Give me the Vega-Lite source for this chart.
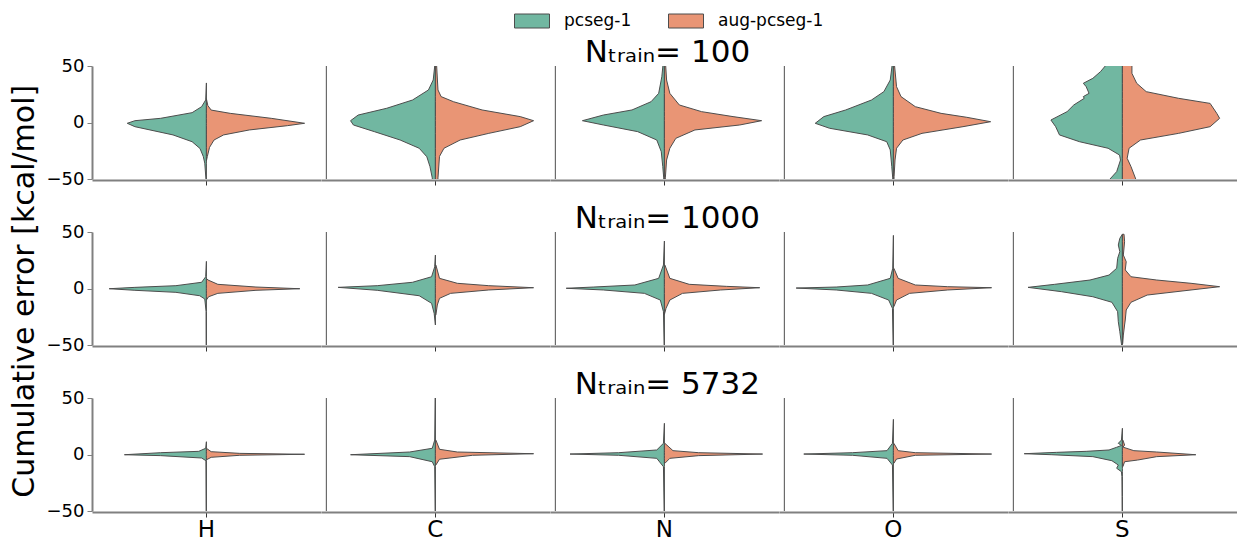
{
"$schema": "https://vega.github.io/schema/vega-lite/v6.json",
"background": "white",
"padding": {"left": 10, "top": 3, "right": 0, "bottom": 0},
"title": {"text": "Cumulative error [kcal/mol]", "orient": "left", "anchor": "middle", "fontSize": 30, "fontWeight": "normal", "color": "black", "offset": 6, "dx": -19},
"config": {
 "font": "DejaVu Sans",
 "view": {"stroke": null},
 "title": {"fontSize": 31, "fontWeight": "normal", "font": "DejaVu Sans", "color": "black", "anchor": "middle", "offset": -12, "dx": 26}
},
"datasets": {"v": [
{"n":"100","el":"H","s":"pcseg-1","e":35,"w":0},{"n":"100","el":"H","s":"pcseg-1","e":20,"w":-0.7},{"n":"100","el":"H","s":"pcseg-1","e":14,"w":-5},{"n":"100","el":"H","s":"pcseg-1","e":8.7,"w":-15},{"n":"100","el":"H","s":"pcseg-1","e":3.7,"w":-48},{"n":"100","el":"H","s":"pcseg-1","e":1.6,"w":-75},{"n":"100","el":"H","s":"pcseg-1","e":-0.7,"w":-83},{"n":"100","el":"H","s":"pcseg-1","e":-3.7,"w":-75},{"n":"100","el":"H","s":"pcseg-1","e":-11,"w":-35},{"n":"100","el":"H","s":"pcseg-1","e":-17,"w":-15},{"n":"100","el":"H","s":"pcseg-1","e":-23,"w":-6.7},{"n":"100","el":"H","s":"pcseg-1","e":-30,"w":-3.3},{"n":"100","el":"H","s":"pcseg-1","e":-36,"w":-1.7},{"n":"100","el":"H","s":"pcseg-1","e":-52,"w":-0.3},
{"n":"100","el":"H","s":"aug-pcseg-1","e":21,"w":0},{"n":"100","el":"H","s":"aug-pcseg-1","e":15,"w":1.5},{"n":"100","el":"H","s":"aug-pcseg-1","e":11,"w":5},{"n":"100","el":"H","s":"aug-pcseg-1","e":8.1,"w":25},{"n":"100","el":"H","s":"aug-pcseg-1","e":3.7,"w":68},{"n":"100","el":"H","s":"aug-pcseg-1","e":-0.7,"w":103},{"n":"100","el":"H","s":"aug-pcseg-1","e":-2.8,"w":85},{"n":"100","el":"H","s":"aug-pcseg-1","e":-6.6,"w":45},{"n":"100","el":"H","s":"aug-pcseg-1","e":-11,"w":18},{"n":"100","el":"H","s":"aug-pcseg-1","e":-15.5,"w":8},{"n":"100","el":"H","s":"aug-pcseg-1","e":-22,"w":3.3},{"n":"100","el":"H","s":"aug-pcseg-1","e":-30,"w":1},{"n":"100","el":"H","s":"aug-pcseg-1","e":-34,"w":0},
{"n":"100","el":"C","s":"pcseg-1","e":55,"w":-0.7},{"n":"100","el":"C","s":"pcseg-1","e":50,"w":-0.7},{"n":"100","el":"C","s":"pcseg-1","e":37.6,"w":-2.3},{"n":"100","el":"C","s":"pcseg-1","e":28.8,"w":-7.3},{"n":"100","el":"C","s":"pcseg-1","e":19.9,"w":-24},{"n":"100","el":"C","s":"pcseg-1","e":12.6,"w":-51},{"n":"100","el":"C","s":"pcseg-1","e":6.6,"w":-81},{"n":"100","el":"C","s":"pcseg-1","e":1.6,"w":-89},{"n":"100","el":"C","s":"pcseg-1","e":-2.2,"w":-86},{"n":"100","el":"C","s":"pcseg-1","e":-8.1,"w":-64},{"n":"100","el":"C","s":"pcseg-1","e":-15.5,"w":-37},{"n":"100","el":"C","s":"pcseg-1","e":-22.8,"w":-17},{"n":"100","el":"C","s":"pcseg-1","e":-30.3,"w":-9},{"n":"100","el":"C","s":"pcseg-1","e":-39,"w":-5.7},{"n":"100","el":"C","s":"pcseg-1","e":-49,"w":-3.3},{"n":"100","el":"C","s":"pcseg-1","e":-55,"w":-3},
{"n":"100","el":"C","s":"aug-pcseg-1","e":55,"w":1},{"n":"100","el":"C","s":"aug-pcseg-1","e":28.8,"w":2.7},{"n":"100","el":"C","s":"aug-pcseg-1","e":22.9,"w":6},{"n":"100","el":"C","s":"aug-pcseg-1","e":18.4,"w":19},{"n":"100","el":"C","s":"aug-pcseg-1","e":11.1,"w":49},{"n":"100","el":"C","s":"aug-pcseg-1","e":5.2,"w":89},{"n":"100","el":"C","s":"aug-pcseg-1","e":1.6,"w":103},{"n":"100","el":"C","s":"aug-pcseg-1","e":-3.7,"w":89},{"n":"100","el":"C","s":"aug-pcseg-1","e":-9.6,"w":56},{"n":"100","el":"C","s":"aug-pcseg-1","e":-15.5,"w":26},{"n":"100","el":"C","s":"aug-pcseg-1","e":-22.8,"w":9},{"n":"100","el":"C","s":"aug-pcseg-1","e":-30,"w":4.3},{"n":"100","el":"C","s":"aug-pcseg-1","e":-49,"w":2.7},{"n":"100","el":"C","s":"aug-pcseg-1","e":-55,"w":2.5},
{"n":"100","el":"N","s":"pcseg-1","e":55,"w":-1},{"n":"100","el":"N","s":"pcseg-1","e":40.5,"w":-2.7},{"n":"100","el":"N","s":"pcseg-1","e":25.8,"w":-6},{"n":"100","el":"N","s":"pcseg-1","e":18.4,"w":-14},{"n":"100","el":"N","s":"pcseg-1","e":11.1,"w":-34},{"n":"100","el":"N","s":"pcseg-1","e":6.6,"w":-64},{"n":"100","el":"N","s":"pcseg-1","e":1.6,"w":-86},{"n":"100","el":"N","s":"pcseg-1","e":-2.2,"w":-64},{"n":"100","el":"N","s":"pcseg-1","e":-8.1,"w":-28},{"n":"100","el":"N","s":"pcseg-1","e":-15.5,"w":-8},{"n":"100","el":"N","s":"pcseg-1","e":-25.8,"w":-3.3},{"n":"100","el":"N","s":"pcseg-1","e":-39,"w":-1.7},{"n":"100","el":"N","s":"pcseg-1","e":-49,"w":-0.7},{"n":"100","el":"N","s":"pcseg-1","e":-55,"w":-0.5},
{"n":"100","el":"N","s":"aug-pcseg-1","e":55,"w":1},{"n":"100","el":"N","s":"aug-pcseg-1","e":37.6,"w":2.3},{"n":"100","el":"N","s":"aug-pcseg-1","e":25.8,"w":5.7},{"n":"100","el":"N","s":"aug-pcseg-1","e":15.5,"w":15.7},{"n":"100","el":"N","s":"aug-pcseg-1","e":9.6,"w":39},{"n":"100","el":"N","s":"aug-pcseg-1","e":5.2,"w":72},{"n":"100","el":"N","s":"aug-pcseg-1","e":1.6,"w":102},{"n":"100","el":"N","s":"aug-pcseg-1","e":-2.2,"w":79},{"n":"100","el":"N","s":"aug-pcseg-1","e":-6.6,"w":32},{"n":"100","el":"N","s":"aug-pcseg-1","e":-14,"w":12},{"n":"100","el":"N","s":"aug-pcseg-1","e":-22.8,"w":5.7},{"n":"100","el":"N","s":"aug-pcseg-1","e":-33.2,"w":2.3},{"n":"100","el":"N","s":"aug-pcseg-1","e":-49,"w":1},{"n":"100","el":"N","s":"aug-pcseg-1","e":-55,"w":0.8},
{"n":"100","el":"O","s":"pcseg-1","e":55,"w":-0.7},{"n":"100","el":"O","s":"pcseg-1","e":37.6,"w":-3.3},{"n":"100","el":"O","s":"pcseg-1","e":27.3,"w":-10},{"n":"100","el":"O","s":"pcseg-1","e":19.9,"w":-23},{"n":"100","el":"O","s":"pcseg-1","e":11.1,"w":-50},{"n":"100","el":"O","s":"pcseg-1","e":5.2,"w":-73},{"n":"100","el":"O","s":"pcseg-1","e":-0.7,"w":-82},{"n":"100","el":"O","s":"pcseg-1","e":-5.1,"w":-67},{"n":"100","el":"O","s":"pcseg-1","e":-11,"w":-27},{"n":"100","el":"O","s":"pcseg-1","e":-17,"w":-7},{"n":"100","el":"O","s":"pcseg-1","e":-24.3,"w":-3.3},{"n":"100","el":"O","s":"pcseg-1","e":-39,"w":-1.7},{"n":"100","el":"O","s":"pcseg-1","e":-49,"w":-0.7},{"n":"100","el":"O","s":"pcseg-1","e":-55,"w":-0.5},
{"n":"100","el":"O","s":"aug-pcseg-1","e":55,"w":0.7},{"n":"100","el":"O","s":"aug-pcseg-1","e":31.7,"w":3.3},{"n":"100","el":"O","s":"aug-pcseg-1","e":22.9,"w":8},{"n":"100","el":"O","s":"aug-pcseg-1","e":14,"w":23},{"n":"100","el":"O","s":"aug-pcseg-1","e":8.1,"w":50},{"n":"100","el":"O","s":"aug-pcseg-1","e":4.6,"w":77},{"n":"100","el":"O","s":"aug-pcseg-1","e":0.7,"w":102},{"n":"100","el":"O","s":"aug-pcseg-1","e":-3.7,"w":73},{"n":"100","el":"O","s":"aug-pcseg-1","e":-9.6,"w":30},{"n":"100","el":"O","s":"aug-pcseg-1","e":-15.5,"w":10},{"n":"100","el":"O","s":"aug-pcseg-1","e":-22.8,"w":3.3},{"n":"100","el":"O","s":"aug-pcseg-1","e":-33.2,"w":1.7},{"n":"100","el":"O","s":"aug-pcseg-1","e":-48,"w":0.7},{"n":"100","el":"O","s":"aug-pcseg-1","e":-55,"w":0.5},
{"n":"100","el":"S","s":"pcseg-1","e":56,"w":-16},{"n":"100","el":"S","s":"pcseg-1","e":50,"w":-18},{"n":"100","el":"S","s":"pcseg-1","e":45,"w":-23},{"n":"100","el":"S","s":"pcseg-1","e":39.1,"w":-31},{"n":"100","el":"S","s":"pcseg-1","e":34.7,"w":-41},{"n":"100","el":"S","s":"pcseg-1","e":31.7,"w":-38},{"n":"100","el":"S","s":"pcseg-1","e":25.8,"w":-35},{"n":"100","el":"S","s":"pcseg-1","e":22.9,"w":-41},{"n":"100","el":"S","s":"pcseg-1","e":21.4,"w":-40},{"n":"100","el":"S","s":"pcseg-1","e":15.5,"w":-51},{"n":"100","el":"S","s":"pcseg-1","e":9.6,"w":-58},{"n":"100","el":"S","s":"pcseg-1","e":2.2,"w":-75},{"n":"100","el":"S","s":"pcseg-1","e":-3.7,"w":-70},{"n":"100","el":"S","s":"pcseg-1","e":-11,"w":-66},{"n":"100","el":"S","s":"pcseg-1","e":-17,"w":-45},{"n":"100","el":"S","s":"pcseg-1","e":-22.8,"w":-15},{"n":"100","el":"S","s":"pcseg-1","e":-28.8,"w":-3},{"n":"100","el":"S","s":"pcseg-1","e":-33.2,"w":-2},{"n":"100","el":"S","s":"pcseg-1","e":-43.5,"w":-6},{"n":"100","el":"S","s":"pcseg-1","e":-50,"w":-13},{"n":"100","el":"S","s":"pcseg-1","e":-56,"w":-16},
{"n":"100","el":"S","s":"aug-pcseg-1","e":56,"w":10},{"n":"100","el":"S","s":"aug-pcseg-1","e":50,"w":10},{"n":"100","el":"S","s":"aug-pcseg-1","e":43.5,"w":10},{"n":"100","el":"S","s":"aug-pcseg-1","e":34.7,"w":15},{"n":"100","el":"S","s":"aug-pcseg-1","e":27.3,"w":25},{"n":"100","el":"S","s":"aug-pcseg-1","e":21.4,"w":59},{"n":"100","el":"S","s":"aug-pcseg-1","e":16.9,"w":92},{"n":"100","el":"S","s":"aug-pcseg-1","e":8.1,"w":99},{"n":"100","el":"S","s":"aug-pcseg-1","e":3.7,"w":102},{"n":"100","el":"S","s":"aug-pcseg-1","e":-3.7,"w":92},{"n":"100","el":"S","s":"aug-pcseg-1","e":-9.6,"w":59},{"n":"100","el":"S","s":"aug-pcseg-1","e":-15.5,"w":19},{"n":"100","el":"S","s":"aug-pcseg-1","e":-22.8,"w":7},{"n":"100","el":"S","s":"aug-pcseg-1","e":-31.7,"w":5},{"n":"100","el":"S","s":"aug-pcseg-1","e":-39,"w":9},{"n":"100","el":"S","s":"aug-pcseg-1","e":-50,"w":14},{"n":"100","el":"S","s":"aug-pcseg-1","e":-56,"w":16},

{"n":"1000","el":"H","s":"pcseg-1","e":24,"w":0},{"n":"1000","el":"H","s":"pcseg-1","e":10.4,"w":-0.7},{"n":"1000","el":"H","s":"pcseg-1","e":5.5,"w":-5},{"n":"1000","el":"H","s":"pcseg-1","e":2.5,"w":-32},{"n":"1000","el":"H","s":"pcseg-1","e":1,"w":-75},{"n":"1000","el":"H","s":"pcseg-1","e":-0.2,"w":-102},{"n":"1000","el":"H","s":"pcseg-1","e":-1.6,"w":-75},{"n":"1000","el":"H","s":"pcseg-1","e":-3.4,"w":-32},{"n":"1000","el":"H","s":"pcseg-1","e":-6.4,"w":-7},{"n":"1000","el":"H","s":"pcseg-1","e":-9.3,"w":-1.7},{"n":"1000","el":"H","s":"pcseg-1","e":-20.5,"w":-0.3},{"n":"1000","el":"H","s":"pcseg-1","e":-52,"w":-0.2},
{"n":"1000","el":"H","s":"aug-pcseg-1","e":9,"w":0},{"n":"1000","el":"H","s":"aug-pcseg-1","e":7.5,"w":1.7},{"n":"1000","el":"H","s":"aug-pcseg-1","e":3.7,"w":12},{"n":"1000","el":"H","s":"aug-pcseg-1","e":1.3,"w":52},{"n":"1000","el":"H","s":"aug-pcseg-1","e":-0.2,"w":98},{"n":"1000","el":"H","s":"aug-pcseg-1","e":-1.6,"w":52},{"n":"1000","el":"H","s":"aug-pcseg-1","e":-4.3,"w":12},{"n":"1000","el":"H","s":"aug-pcseg-1","e":-7.3,"w":2.3},{"n":"1000","el":"H","s":"aug-pcseg-1","e":-10.2,"w":0},
{"n":"1000","el":"C","s":"pcseg-1","e":29.6,"w":0},{"n":"1000","el":"C","s":"pcseg-1","e":19.3,"w":-0.7},{"n":"1000","el":"C","s":"pcseg-1","e":10.4,"w":-4},{"n":"1000","el":"C","s":"pcseg-1","e":5.5,"w":-24},{"n":"1000","el":"C","s":"pcseg-1","e":2.5,"w":-61},{"n":"1000","el":"C","s":"pcseg-1","e":1,"w":-102},{"n":"1000","el":"C","s":"pcseg-1","e":-1.6,"w":-61},{"n":"1000","el":"C","s":"pcseg-1","e":-6.4,"w":-17},{"n":"1000","el":"C","s":"pcseg-1","e":-13.1,"w":-4},{"n":"1000","el":"C","s":"pcseg-1","e":-22,"w":-1.3},{"n":"1000","el":"C","s":"pcseg-1","e":-32.3,"w":0},
{"n":"1000","el":"C","s":"aug-pcseg-1","e":20.8,"w":0.5},{"n":"1000","el":"C","s":"aug-pcseg-1","e":9,"w":4.3},{"n":"1000","el":"C","s":"aug-pcseg-1","e":4.6,"w":23},{"n":"1000","el":"C","s":"aug-pcseg-1","e":2.5,"w":56},{"n":"1000","el":"C","s":"aug-pcseg-1","e":0.7,"w":103},{"n":"1000","el":"C","s":"aug-pcseg-1","e":-1.3,"w":56},{"n":"1000","el":"C","s":"aug-pcseg-1","e":-4.3,"w":16},{"n":"1000","el":"C","s":"aug-pcseg-1","e":-8.7,"w":4.3},{"n":"1000","el":"C","s":"aug-pcseg-1","e":-14.6,"w":2},{"n":"1000","el":"C","s":"aug-pcseg-1","e":-23.5,"w":0.5},
{"n":"1000","el":"N","s":"pcseg-1","e":42,"w":0},{"n":"1000","el":"N","s":"pcseg-1","e":20.8,"w":-1},{"n":"1000","el":"N","s":"pcseg-1","e":9,"w":-6},{"n":"1000","el":"N","s":"pcseg-1","e":3.1,"w":-31},{"n":"1000","el":"N","s":"pcseg-1","e":1.3,"w":-74},{"n":"1000","el":"N","s":"pcseg-1","e":0.2,"w":-103},{"n":"1000","el":"N","s":"pcseg-1","e":-1.3,"w":-64},{"n":"1000","el":"N","s":"pcseg-1","e":-4.3,"w":-21},{"n":"1000","el":"N","s":"pcseg-1","e":-10.2,"w":-4.3},{"n":"1000","el":"N","s":"pcseg-1","e":-20.5,"w":-1},{"n":"1000","el":"N","s":"pcseg-1","e":-52,"w":-0.2},
{"n":"1000","el":"N","s":"aug-pcseg-1","e":20.8,"w":0.5},{"n":"1000","el":"N","s":"aug-pcseg-1","e":9,"w":5.7},{"n":"1000","el":"N","s":"aug-pcseg-1","e":3.7,"w":26},{"n":"1000","el":"N","s":"aug-pcseg-1","e":1.9,"w":65},{"n":"1000","el":"N","s":"aug-pcseg-1","e":0.7,"w":100},{"n":"1000","el":"N","s":"aug-pcseg-1","e":-1.3,"w":59},{"n":"1000","el":"N","s":"aug-pcseg-1","e":-4.3,"w":19},{"n":"1000","el":"N","s":"aug-pcseg-1","e":-10.2,"w":5.7},{"n":"1000","el":"N","s":"aug-pcseg-1","e":-17.5,"w":1.7},{"n":"1000","el":"N","s":"aug-pcseg-1","e":-23,"w":0},
{"n":"1000","el":"O","s":"pcseg-1","e":47,"w":0},{"n":"1000","el":"O","s":"pcseg-1","e":17.9,"w":-0.7},{"n":"1000","el":"O","s":"pcseg-1","e":9,"w":-3.3},{"n":"1000","el":"O","s":"pcseg-1","e":3.1,"w":-27},{"n":"1000","el":"O","s":"pcseg-1","e":1.3,"w":-60},{"n":"1000","el":"O","s":"pcseg-1","e":0.4,"w":-102},{"n":"1000","el":"O","s":"pcseg-1","e":-1.3,"w":-60},{"n":"1000","el":"O","s":"pcseg-1","e":-4.3,"w":-23},{"n":"1000","el":"O","s":"pcseg-1","e":-10.2,"w":-5},{"n":"1000","el":"O","s":"pcseg-1","e":-17.5,"w":-1},{"n":"1000","el":"O","s":"pcseg-1","e":-52,"w":-0.2},
{"n":"1000","el":"O","s":"aug-pcseg-1","e":17.9,"w":0.5},{"n":"1000","el":"O","s":"aug-pcseg-1","e":9,"w":5},{"n":"1000","el":"O","s":"aug-pcseg-1","e":3.1,"w":23},{"n":"1000","el":"O","s":"aug-pcseg-1","e":1.6,"w":57},{"n":"1000","el":"O","s":"aug-pcseg-1","e":0.7,"w":103},{"n":"1000","el":"O","s":"aug-pcseg-1","e":-1.3,"w":57},{"n":"1000","el":"O","s":"aug-pcseg-1","e":-4.3,"w":17},{"n":"1000","el":"O","s":"aug-pcseg-1","e":-10.2,"w":3.3},{"n":"1000","el":"O","s":"aug-pcseg-1","e":-16.1,"w":0.5},
{"n":"1000","el":"S","s":"pcseg-1","e":48,"w":0},{"n":"1000","el":"S","s":"pcseg-1","e":44.4,"w":-2.7},{"n":"1000","el":"S","s":"pcseg-1","e":38.5,"w":-4.3},{"n":"1000","el":"S","s":"pcseg-1","e":32.6,"w":-2.7},{"n":"1000","el":"S","s":"pcseg-1","e":26.7,"w":-5},{"n":"1000","el":"S","s":"pcseg-1","e":17.9,"w":-6},{"n":"1000","el":"S","s":"pcseg-1","e":11.9,"w":-14},{"n":"1000","el":"S","s":"pcseg-1","e":7.5,"w":-34},{"n":"1000","el":"S","s":"pcseg-1","e":3.7,"w":-71},{"n":"1000","el":"S","s":"pcseg-1","e":1,"w":-99},{"n":"1000","el":"S","s":"pcseg-1","e":-2.8,"w":-64},{"n":"1000","el":"S","s":"pcseg-1","e":-7.3,"w":-31},{"n":"1000","el":"S","s":"pcseg-1","e":-12.2,"w":-11},{"n":"1000","el":"S","s":"pcseg-1","e":-20.5,"w":-5},{"n":"1000","el":"S","s":"pcseg-1","e":-29.4,"w":-4.3},{"n":"1000","el":"S","s":"pcseg-1","e":-38.2,"w":-2.7},{"n":"1000","el":"S","s":"pcseg-1","e":-49,"w":-1},{"n":"1000","el":"S","s":"pcseg-1","e":-52,"w":-0.5},
{"n":"1000","el":"S","s":"aug-pcseg-1","e":48,"w":1.7},{"n":"1000","el":"S","s":"aug-pcseg-1","e":41.4,"w":2.3},{"n":"1000","el":"S","s":"aug-pcseg-1","e":29.6,"w":1},{"n":"1000","el":"S","s":"aug-pcseg-1","e":23.7,"w":4},{"n":"1000","el":"S","s":"aug-pcseg-1","e":16.4,"w":3},{"n":"1000","el":"S","s":"aug-pcseg-1","e":10.4,"w":9},{"n":"1000","el":"S","s":"aug-pcseg-1","e":7.5,"w":36},{"n":"1000","el":"S","s":"aug-pcseg-1","e":4.6,"w":72},{"n":"1000","el":"S","s":"aug-pcseg-1","e":1.6,"w":102},{"n":"1000","el":"S","s":"aug-pcseg-1","e":-1.3,"w":72},{"n":"1000","el":"S","s":"aug-pcseg-1","e":-5.8,"w":26},{"n":"1000","el":"S","s":"aug-pcseg-1","e":-12.2,"w":9},{"n":"1000","el":"S","s":"aug-pcseg-1","e":-19,"w":4},{"n":"1000","el":"S","s":"aug-pcseg-1","e":-27.9,"w":3},{"n":"1000","el":"S","s":"aug-pcseg-1","e":-32.3,"w":2.3},{"n":"1000","el":"S","s":"aug-pcseg-1","e":-41.2,"w":1},{"n":"1000","el":"S","s":"aug-pcseg-1","e":-49,"w":0.3},

{"n":"5732","el":"H","s":"pcseg-1","e":11.3,"w":0},{"n":"5732","el":"H","s":"pcseg-1","e":5.5,"w":-0.7},{"n":"5732","el":"H","s":"pcseg-1","e":2.8,"w":-8},{"n":"5732","el":"H","s":"pcseg-1","e":1.6,"w":-48},{"n":"5732","el":"H","s":"pcseg-1","e":-0.2,"w":-86},{"n":"5732","el":"H","s":"pcseg-1","e":-1,"w":-48},{"n":"5732","el":"H","s":"pcseg-1","e":-3.1,"w":-5},{"n":"5732","el":"H","s":"pcseg-1","e":-5.5,"w":-0.5},{"n":"5732","el":"H","s":"pcseg-1","e":-52,"w":-0.2},
{"n":"5732","el":"H","s":"aug-pcseg-1","e":5.5,"w":0},{"n":"5732","el":"H","s":"aug-pcseg-1","e":2.5,"w":5},{"n":"5732","el":"H","s":"aug-pcseg-1","e":1,"w":35},{"n":"5732","el":"H","s":"aug-pcseg-1","e":0.2,"w":103},{"n":"5732","el":"H","s":"aug-pcseg-1","e":-0.7,"w":35},{"n":"5732","el":"H","s":"aug-pcseg-1","e":-2.5,"w":5},{"n":"5732","el":"H","s":"aug-pcseg-1","e":-4.7,"w":0},
{"n":"5732","el":"C","s":"pcseg-1","e":52,"w":-0.2},{"n":"5732","el":"C","s":"pcseg-1","e":12.8,"w":-0.7},{"n":"5732","el":"C","s":"pcseg-1","e":5.5,"w":-3.3},{"n":"5732","el":"C","s":"pcseg-1","e":2.2,"w":-27},{"n":"5732","el":"C","s":"pcseg-1","e":-0.2,"w":-89},{"n":"5732","el":"C","s":"pcseg-1","e":-1.9,"w":-27},{"n":"5732","el":"C","s":"pcseg-1","e":-6.4,"w":-3.3},{"n":"5732","el":"C","s":"pcseg-1","e":-10.8,"w":-0.7},{"n":"5732","el":"C","s":"pcseg-1","e":-52,"w":-0.2},
{"n":"5732","el":"C","s":"aug-pcseg-1","e":12.8,"w":0.5},{"n":"5732","el":"C","s":"aug-pcseg-1","e":4.6,"w":4.3},{"n":"5732","el":"C","s":"aug-pcseg-1","e":2.2,"w":23},{"n":"5732","el":"C","s":"aug-pcseg-1","e":0.7,"w":103},{"n":"5732","el":"C","s":"aug-pcseg-1","e":-0.7,"w":39},{"n":"5732","el":"C","s":"aug-pcseg-1","e":-4.2,"w":4.3},{"n":"5732","el":"C","s":"aug-pcseg-1","e":-9.3,"w":0.5},
{"n":"5732","el":"N","s":"pcseg-1","e":27.6,"w":0},{"n":"5732","el":"N","s":"pcseg-1","e":9.9,"w":-1},{"n":"5732","el":"N","s":"pcseg-1","e":4,"w":-8},{"n":"5732","el":"N","s":"pcseg-1","e":1.6,"w":-48},{"n":"5732","el":"N","s":"pcseg-1","e":0.4,"w":-99},{"n":"5732","el":"N","s":"pcseg-1","e":-0.7,"w":-48},{"n":"5732","el":"N","s":"pcseg-1","e":-3.4,"w":-8},{"n":"5732","el":"N","s":"pcseg-1","e":-10.8,"w":-1},{"n":"5732","el":"N","s":"pcseg-1","e":-52,"w":-0.2},
{"n":"5732","el":"N","s":"aug-pcseg-1","e":9.9,"w":0.5},{"n":"5732","el":"N","s":"aug-pcseg-1","e":3.4,"w":9},{"n":"5732","el":"N","s":"aug-pcseg-1","e":1.6,"w":36},{"n":"5732","el":"N","s":"aug-pcseg-1","e":0.4,"w":103},{"n":"5732","el":"N","s":"aug-pcseg-1","e":-1,"w":36},{"n":"5732","el":"N","s":"aug-pcseg-1","e":-3.4,"w":5.7},{"n":"5732","el":"N","s":"aug-pcseg-1","e":-7.8,"w":0.5},
{"n":"5732","el":"O","s":"pcseg-1","e":31.1,"w":0},{"n":"5732","el":"O","s":"pcseg-1","e":9.9,"w":-1},{"n":"5732","el":"O","s":"pcseg-1","e":3.4,"w":-6.7},{"n":"5732","el":"O","s":"pcseg-1","e":1.6,"w":-43},{"n":"5732","el":"O","s":"pcseg-1","e":0.4,"w":-94},{"n":"5732","el":"O","s":"pcseg-1","e":-0.7,"w":-43},{"n":"5732","el":"O","s":"pcseg-1","e":-3.4,"w":-6.7},{"n":"5732","el":"O","s":"pcseg-1","e":-9.3,"w":-1},{"n":"5732","el":"O","s":"pcseg-1","e":-52,"w":-0.2},
{"n":"5732","el":"O","s":"aug-pcseg-1","e":9.9,"w":0.5},{"n":"5732","el":"O","s":"aug-pcseg-1","e":3.4,"w":5},{"n":"5732","el":"O","s":"aug-pcseg-1","e":1.6,"w":23},{"n":"5732","el":"O","s":"aug-pcseg-1","e":0.4,"w":103},{"n":"5732","el":"O","s":"aug-pcseg-1","e":-0.7,"w":23},{"n":"5732","el":"O","s":"aug-pcseg-1","e":-4,"w":3.3},{"n":"5732","el":"O","s":"aug-pcseg-1","e":-7.8,"w":0.5},
{"n":"5732","el":"S","s":"pcseg-1","e":23.2,"w":0},{"n":"5732","el":"S","s":"pcseg-1","e":12.8,"w":-1},{"n":"5732","el":"S","s":"pcseg-1","e":9.9,"w":-4.3},{"n":"5732","el":"S","s":"pcseg-1","e":8,"w":-1},{"n":"5732","el":"S","s":"pcseg-1","e":6.4,"w":-6},{"n":"5732","el":"S","s":"pcseg-1","e":4,"w":-14},{"n":"5732","el":"S","s":"pcseg-1","e":2.8,"w":-38},{"n":"5732","el":"S","s":"pcseg-1","e":1.9,"w":-69},{"n":"5732","el":"S","s":"pcseg-1","e":0.7,"w":-103},{"n":"5732","el":"S","s":"pcseg-1","e":-0.2,"w":-74},{"n":"5732","el":"S","s":"pcseg-1","e":-1.9,"w":-31},{"n":"5732","el":"S","s":"pcseg-1","e":-5.5,"w":-11},{"n":"5732","el":"S","s":"pcseg-1","e":-9.3,"w":-4.3},{"n":"5732","el":"S","s":"pcseg-1","e":-12.2,"w":-6},{"n":"5732","el":"S","s":"pcseg-1","e":-15.2,"w":-1},{"n":"5732","el":"S","s":"pcseg-1","e":-19.6,"w":-0.5},{"n":"5732","el":"S","s":"pcseg-1","e":-37.3,"w":-0.3},{"n":"5732","el":"S","s":"pcseg-1","e":-52,"w":-0.2},
{"n":"5732","el":"S","s":"aug-pcseg-1","e":12.8,"w":0.5},{"n":"5732","el":"S","s":"aug-pcseg-1","e":8.4,"w":2.3},{"n":"5732","el":"S","s":"aug-pcseg-1","e":6.5,"w":0.7},{"n":"5732","el":"S","s":"aug-pcseg-1","e":3.4,"w":12},{"n":"5732","el":"S","s":"aug-pcseg-1","e":2.2,"w":36},{"n":"5732","el":"S","s":"aug-pcseg-1","e":-0.2,"w":77},{"n":"5732","el":"S","s":"aug-pcseg-1","e":-1.9,"w":36},{"n":"5732","el":"S","s":"aug-pcseg-1","e":-4.9,"w":16},{"n":"5732","el":"S","s":"aug-pcseg-1","e":-6.4,"w":2.3},{"n":"5732","el":"S","s":"aug-pcseg-1","e":-10.8,"w":0.5}
]},
"spacing": 15,
"vconcat": [
 {
  "title": {"text": "Nₜᵣₐᵢₙ= 100"},
  "data": {"name": "v"},
  "transform": [{"filter": "datum.n === '100'"}],
  "facet": {"column": {"field": "el", "type": "nominal", "sort": ["H","C","N","O","S"], "header": {"labels": false, "title": null}}},
  "spacing": 0,
  "spec": {
   "width": 228.8, "height": 113,
   "layer": [
    {"mark": {"type": "area", "orient": "horizontal", "clip": true, "stroke": "#4d4d4d", "strokeWidth": 1, "strokeJoin": "round", "opacity": 1},
     "encoding": {
      "y": {"field": "e", "type": "quantitative", "scale": {"domain": [-50, 50]}, "axis": {"values": [-50, 0, 50], "title": null, "grid": false, "domainColor": "#808080", "domainWidth": 2, "tickColor": "#808080", "tickSize": 5, "labelFontSize": 18, "labelColor": "black", "labelPadding": 3}},
      "x": {"field": "w", "type": "quantitative", "stack": null, "scale": {"domain": [-114.4, 114.4]}, "axis": {"values": [0], "labels": false, "title": null, "grid": false, "domainColor": "#808080", "domainWidth": 2, "tickColor": "#333333", "tickSize": 5}},
      "x2": {"datum": 0},
      "color": {"field": "s", "type": "nominal", "scale": {"domain": ["pcseg-1", "aug-pcseg-1"], "range": ["#71b7a1", "#e99575"]},
        "legend": {"title": null, "orient": "none", "legendX": 422, "legendY": -63, "direction": "horizontal", "symbolType": "M-1,-0.4H1V0.4H-1Z", "symbolSize": 1225, "symbolStrokeColor": "#808080", "symbolStrokeWidth": 1, "symbolOpacity": 1, "labelFontSize": 17, "labelColor": "black", "labelOffset": 14, "columnPadding": 34, "padding": 0}}
     }},
    {"transform": [{"filter": "datum.el !== 'H'"}, {"aggregate": [{"op": "count", "as": "c"}], "groupby": ["el", "n"]}],
     "mark": {"type": "rule", "color": "#4d4d4d", "strokeWidth": 1},
     "encoding": {
      "x": {"datum": -114.4, "type": "quantitative"},
      "y": {"datum": -50, "type": "quantitative"},
      "y2": {"datum": 50}
     }}
   ]
  }
 },
 {
  "title": {"text": "Nₜᵣₐᵢₙ= 1000"},
  "data": {"name": "v"},
  "transform": [{"filter": "datum.n === '1000'"}],
  "facet": {"column": {"field": "el", "type": "nominal", "sort": ["H","C","N","O","S"], "header": {"labels": false, "title": null}}},
  "spacing": 0,
  "spec": {
   "width": 228.8, "height": 113,
   "layer": [
    {"mark": {"type": "area", "orient": "horizontal", "clip": true, "stroke": "#4d4d4d", "strokeWidth": 1, "strokeJoin": "round", "opacity": 1},
     "encoding": {
      "y": {"field": "e", "type": "quantitative", "scale": {"domain": [-50, 50]}, "axis": {"values": [-50, 0, 50], "title": null, "grid": false, "domainColor": "#808080", "domainWidth": 2, "tickColor": "#808080", "tickSize": 5, "labelFontSize": 18, "labelColor": "black", "labelPadding": 3}},
      "x": {"field": "w", "type": "quantitative", "stack": null, "scale": {"domain": [-114.4, 114.4]}, "axis": {"values": [0], "labels": false, "title": null, "grid": false, "domainColor": "#808080", "domainWidth": 2, "tickColor": "#333333", "tickSize": 5}},
      "x2": {"datum": 0},
      "color": {"field": "s", "type": "nominal"}
     }},
    {"transform": [{"filter": "datum.el !== 'H'"}, {"aggregate": [{"op": "count", "as": "c"}], "groupby": ["el", "n"]}],
     "mark": {"type": "rule", "color": "#4d4d4d", "strokeWidth": 1},
     "encoding": {
      "x": {"datum": -114.4, "type": "quantitative"},
      "y": {"datum": -50, "type": "quantitative"},
      "y2": {"datum": 50}
     }}
   ]
  }
 },
 {
  "title": {"text": "Nₜᵣₐᵢₙ= 5732"},
  "data": {"name": "v"},
  "transform": [{"filter": "datum.n === '5732'"}],
  "facet": {"column": {"field": "el", "type": "nominal", "sort": ["H","C","N","O","S"], "header": {"labelOrient": "bottom", "labelFontSize": 23, "labelColor": "black", "labelPadding": 1, "labelBaseline": "top", "title": null}}},
  "spacing": 0,
  "spec": {
   "width": 228.8, "height": 113,
   "layer": [
    {"mark": {"type": "area", "orient": "horizontal", "clip": true, "stroke": "#4d4d4d", "strokeWidth": 1, "strokeJoin": "round", "opacity": 1},
     "encoding": {
      "y": {"field": "e", "type": "quantitative", "scale": {"domain": [-50, 50]}, "axis": {"values": [-50, 0, 50], "title": null, "grid": false, "domainColor": "#808080", "domainWidth": 2, "tickColor": "#808080", "tickSize": 5, "labelFontSize": 18, "labelColor": "black", "labelPadding": 3}},
      "x": {"field": "w", "type": "quantitative", "stack": null, "scale": {"domain": [-114.4, 114.4]}, "axis": {"values": [0], "labels": false, "title": null, "grid": false, "domainColor": "#808080", "domainWidth": 2, "tickColor": "#333333", "tickSize": 5}},
      "x2": {"datum": 0},
      "color": {"field": "s", "type": "nominal"}
     }},
    {"transform": [{"filter": "datum.el !== 'H'"}, {"aggregate": [{"op": "count", "as": "c"}], "groupby": ["el", "n"]}],
     "mark": {"type": "rule", "color": "#4d4d4d", "strokeWidth": 1},
     "encoding": {
      "x": {"datum": -114.4, "type": "quantitative"},
      "y": {"datum": -50, "type": "quantitative"},
      "y2": {"datum": 50}
     }}
   ]
  }
 }
]
}
